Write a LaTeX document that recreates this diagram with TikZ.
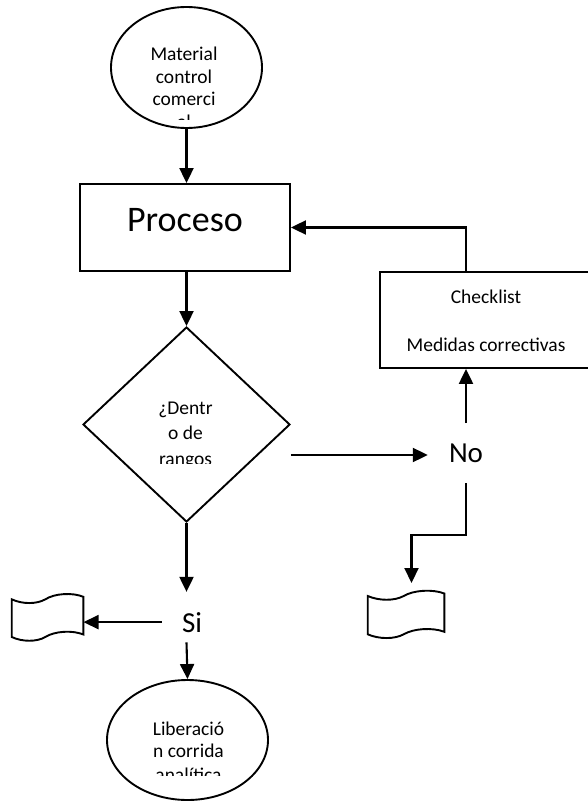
\documentclass[tikz,border=0pt]{standalone}
\usepackage{fontspec}
\setmainfont{Carlito}
\usetikzlibrary{arrows.meta,shapes.geometric,calc}
\newcommand\flowdoc[4]{%
  \draw[shp] (#1,{#2+6}) .. controls ({#1+0.15*#3},{#2+11}) and ({#1+0.35*#3},{#2+11}) .. ({#1+0.47*#3},{#2+6})
    .. controls ({#1+0.6*#3},{#2}) and ({#1+0.85*#3},{#2-1}) .. ({#1+#3},{#2+3.5})
    -- ({#1+#3},{#2+3.5+#4})
    .. controls ({#1+0.85*#3},{#2-1+#4}) and ({#1+0.6*#3},{#2+#4}) .. ({#1+0.47*#3},{#2+6+#4})
    .. controls ({#1+0.35*#3},{#2+11+#4}) and ({#1+0.15*#3},{#2+11+#4}) .. (#1,{#2+6+#4}) -- cycle;}
\begin{document}
\begin{tikzpicture}[x=1pt,y=-1pt,
  shp/.style={draw=black,line width=1.9pt,inner sep=0pt},
  conn/.style={line width=2.1pt},
  arr/.style={conn,-{Triangle[length=15pt,width=14pt]}},
  txt/.style={inner sep=0pt,anchor=base,font=\fontsize{19.5}{23.5}\selectfont},
  big/.style={inner sep=0pt,anchor=base,font=\fontsize{29}{35}\selectfont},
]
\useasboundingbox (0,0) rectangle (587,802);
% start ellipse
\node[shp,ellipse,minimum width=151pt,minimum height=121pt] (start) at (186.5,67.5) {};
\begin{scope}
  \clip (100,0) rectangle (280,120);
  \node[txt] (s1) at (184,61) {Material};
  \node[txt] (s2) at (184,83.5) {control};
  \node[txt] (s3) at (184,106) {comerci};
  \node[txt] (s4) at (184,128.5) {al};
\end{scope}
% proceso
\node[shp,rectangle,minimum width=210pt,minimum height=87pt] (proc) at (185,227.5) {};
\node[inner sep=0pt,anchor=base,font=\fontsize{36}{43}\selectfont] (proct) at (185,232) {Proceso};
% decision
\node[shp,diamond,minimum width=207pt,minimum height=195pt] (dec) at (186.5,424.5) {};
\begin{scope}
  \clip (100,330) rectangle (280,463);
  \node[txt] (d1) at (185.5,414) {¿Dentr};
  \node[txt] (d2) at (185.5,439.5) {o de};
  \node[txt] (d3) at (185.5,465.5) {rangos};
\end{scope}
% checklist
\node[shp,rectangle,minimum width=214pt,minimum height=96pt,anchor=north west] (chk) at (379,271) {};
\node[txt] (c1) at (486,303.5) {Checklist};
\node[txt] (c2) at (486,351.5) {Medidas correctivas};
% No / Si
\node[big] (no) at (466,462) {No};
\node[big] (si) at (192,632) {Si};
% documents
\node[inner sep=0pt,minimum width=71.6pt,minimum height=47.7pt] (docL) at (47.5,617) {};
\node[inner sep=0pt,minimum width=76.6pt,minimum height=48pt] (docR) at (406,614) {};
\coordinate (docRin) at (411.5,583);
\flowdoc{11.7}{593.3}{71.6}{37.7}
\flowdoc{367.7}{590}{76.6}{38.3}
% liberacion
\node[shp,ellipse,minimum width=161pt,minimum height=120pt] (lib) at (187.5,740) {};
\begin{scope}
  \clip (100,690) rectangle (280,775.5);
  \node[txt] (l1) at (188.5,735) {Liberació};
  \node[txt] (l2) at (188.5,757) {n corrida};
  \node[txt] (l3) at (188.5,781) {analítica};
\end{scope}
% connectors
\draw[arr] (start.south) -- (start.south |- proc.north);
\draw[arr] (dec.north |- proc.south) -- (dec.north);
\draw[arr] (dec.south) -- ($(dec.south |- si.north)+(0,-20)$);
\draw[arr] ($(si.west)+(-20,0)$) -- (docL.east |- si.west);
\draw[arr] ($(dec.south |- si.south)+(0,10)$) -- (lib.north);
\draw[arr,shorten >=21pt] (dec.east |- 0,455) -- (no.west |- 0,455);
\draw[arr] ($(no.north)+(0,-20)$) -- (no.north |- chk.south);
\draw[arr] ($(no.south)+(0,21)$) -- ($(no.south)+(0,73)$) -| (docRin);
\draw[arr] (no.north |- chk.north) |- (proc.east);
\end{tikzpicture}
\end{document}
